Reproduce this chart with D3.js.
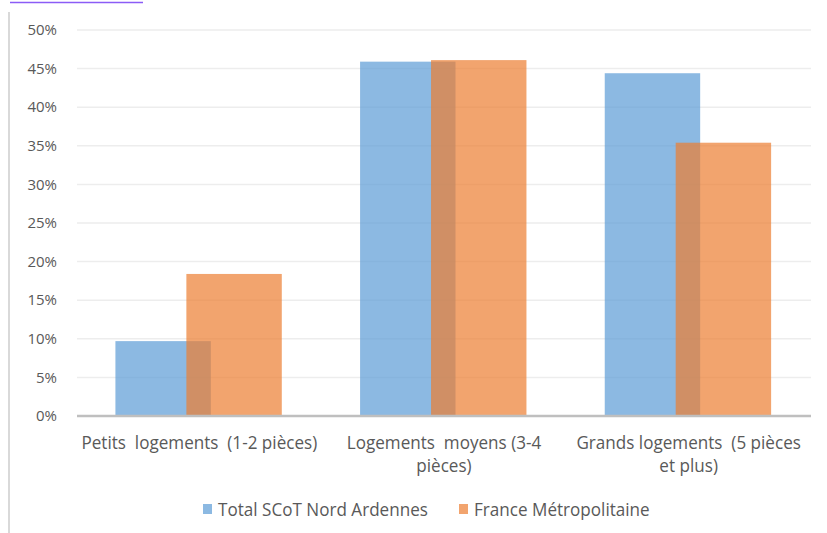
<!DOCTYPE html>
<html lang="fr">
  <head>
    <meta charset="UTF-8" />
    <title>Taille des logements</title>
    <style>
      body { margin: 0; background: white; }
      svg { display: block; }
      .tick-label { font-family: "Open Sans", sans-serif; font-size: 15px; fill: #595959; }
      .cat-label, .legend-label { font-family: "Open Sans", sans-serif; font-size: 18px; fill: #595959; white-space: pre; }
    </style>
  </head>
  <body>
    <svg id="chart" width="827" height="533"></svg>

    <script src="https://d3js.org/d3.v7.min.js"></script>
    <script>
      // data
      const categories = ["Petits logements (1-2 pièces)", "Logements moyens (3-4 pièces)", "Grands logements (5 pièces et plus)"];
      const categoryLines = [
        ["Petits  logements  (1-2 pièces)"],
        ["Logements  moyens (3-4", "pièces)"],
        ["Grands logements  (5 pièces", "et plus)"],
      ];
      const seriesNames = ["Total SCoT Nord Ardennes", "France Métropolitaine"];
      const scotValues = [0.097, 0.459, 0.444];
      const franceValues = [0.184, 0.461, 0.354];
      const yTicks = [0, 0.05, 0.1, 0.15, 0.2, 0.25, 0.3, 0.35, 0.4, 0.45, 0.5];
      const colors = ["#5B9BD5", "#ED7D31"];

      const svg = d3.select("#chart");
      const squeeze = 0.95; // the original font is narrower than Open Sans

      // cropped title remnant at the very top
      svg.append("line")
        .attr("x1", 10).attr("x2", 143)
        .attr("y1", 2.5).attr("y2", 2.5)
        .attr("stroke", "#8B5CF6").attr("stroke-width", 1.5);

      // left frame line
      svg.append("line")
        .attr("x1", 9).attr("x2", 9)
        .attr("y1", 12).attr("y2", 533)
        .attr("stroke", "#D9D9D9").attr("stroke-width", 2);

      const x = d3.scaleBand().domain(categories).range([77, 811]).padding(0);
      const y = d3.scaleLinear().domain([0, 0.5]).range([416, 30]);

      // gridlines
      svg.append("g")
        .selectAll("line")
        .data(yTicks.slice(1))
        .join("line")
        .attr("x1", 77).attr("x2", 811)
        .attr("y1", (d) => y(d)).attr("y2", (d) => y(d))
        .attr("stroke", "#EDEDED").attr("stroke-width", 1.5);

      // y tick labels
      svg.append("g")
        .selectAll("text")
        .data(yTicks)
        .join("text")
        .attr("class", "tick-label")
        .attr("x", 57)
        .attr("y", (d) => y(d))
        .attr("dy", "0.35em")
        .attr("text-anchor", "end")
        .text((d) => d3.format(".0%")(d));

      const bw = x.bandwidth();
      const barW = bw * 0.39;
      const shift = bw * 0.29;
      const start = (c) => x(c) + bw / 2 - bw * 0.343;

      const series = [scotValues, franceValues];
      series.forEach((vals, i) => {
        svg.append("g")
          .selectAll("rect")
          .data(categories)
          .join("rect")
          .attr("x", (c) => start(c) + i * shift)
          .attr("y", (c, j) => y(vals[j]))
          .attr("width", barW)
          .attr("height", (c, j) => y(0) - y(vals[j]))
          .attr("fill", colors[i])
          .attr("fill-opacity", 0.7);
      });

      // baseline
      svg.append("line")
        .attr("x1", 77).attr("x2", 811)
        .attr("y1", y(0)).attr("y2", y(0))
        .attr("stroke", "#BFBFBF").attr("stroke-width", 2.5);

      // category labels
      const cat = svg.append("g")
        .attr("transform", `scale(${squeeze},1)`)
        .selectAll("text")
        .data(categories)
        .join("text")
        .attr("class", "cat-label")
        .attr("text-anchor", "middle")
        .attr("y", 449);
      cat.each(function (c, i) {
        const t = d3.select(this);
        categoryLines[i].forEach((line, k) => {
          t.append("tspan")
            .attr("x", (x(c) + bw / 2) / squeeze)
            .attr("dy", k === 0 ? 0 : 23)
            .text(line);
        });
      });

      // legend
      const legendX = [203, 459];
      const legend = svg.append("g")
        .selectAll("g")
        .data(seriesNames)
        .join("g")
        .attr("transform", (d, i) => `translate(${legendX[i]},504)`);
      legend.append("rect")
        .attr("width", 9).attr("height", 10)
        .attr("fill", (d, i) => colors[i])
        .attr("fill-opacity", 0.7);
      legend.append("text")
        .attr("class", "legend-label")
        .attr("transform", `translate(15,12) scale(${squeeze},1)`)
        .text((d) => d);
    </script>
  </body>
</html>
